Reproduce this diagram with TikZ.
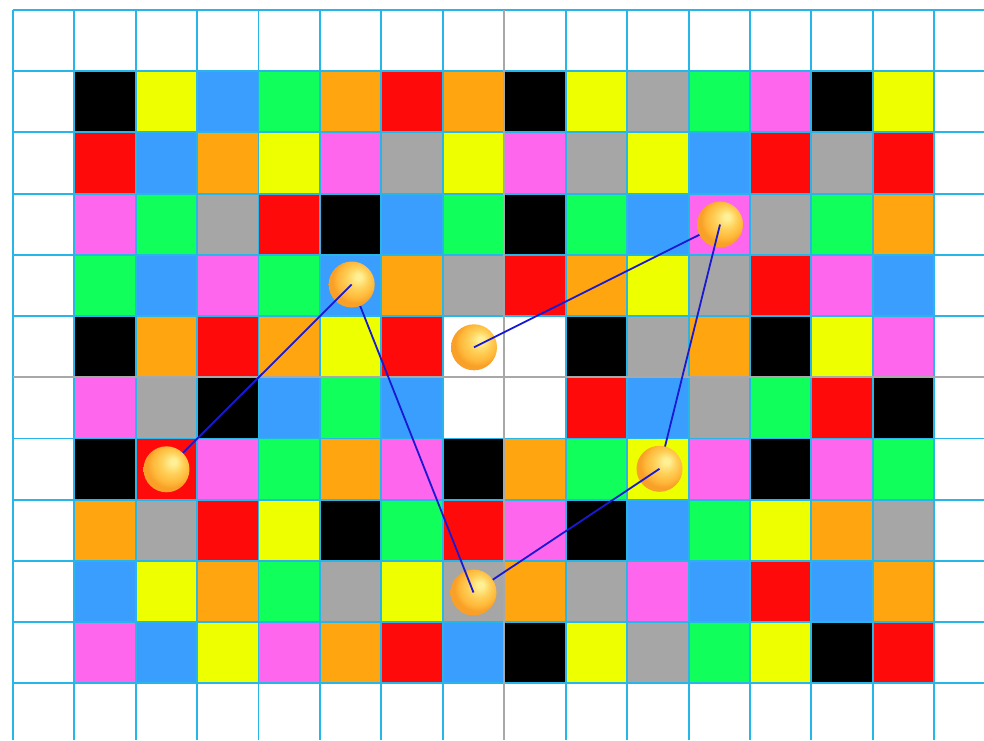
\documentclass[tikz,border=0pt]{standalone}
\usepackage{tikz}
\definecolor{cK}{RGB}{0,0,0}
\definecolor{cY}{RGB}{238,255,0}
\definecolor{cB}{RGB}{58,158,255}
\definecolor{cG}{RGB}{16,255,90}
\definecolor{cO}{RGB}{255,165,16}
\definecolor{cR}{RGB}{255,10,10}
\definecolor{cM}{RGB}{255,102,238}
\definecolor{cA}{RGB}{166,166,166}
\definecolor{cW}{RGB}{255,255,255}
\definecolor{gridcyan}{RGB}{40,182,232}
\definecolor{gridgray}{RGB}{168,168,168}
\definecolor{linkblue}{RGB}{25,25,210}
\definecolor{ballhi}{RGB}{255,240,150}
\definecolor{ballmid}{RGB}{255,208,88}
\definecolor{ballout}{RGB}{255,184,58}
\definecolor{balledge}{RGB}{248,160,40}
\pgfdeclareradialshading{goldball}{\pgfpoint{8bp}{9bp}}{color(0bp)=(ballhi); color(3bp)=(ballhi); color(12bp)=(ballmid); color(20bp)=(ballout); color(25bp)=(balledge); color(50bp)=(balledge)}
\tikzset{
  gridline/.style={draw=gridcyan, line width=1.9pt},
  centerline/.style={draw=gridgray, line width=1.9pt},
  link/.style={draw=linkblue, line width=1.8pt},
  ball/.style={circle, minimum size=46pt, inner sep=0pt, shading=goldball, draw=none},
}
\begin{document}
\begin{tikzpicture}[x=1pt,y=-1pt]
\def\cw{61.44}\def\ch{61.21}\def\xo{12.7}\def\yo{10}
\useasboundingbox (0,0) rectangle (984,740);
\clip (0,0) rectangle (984,740);
\fill[white] (0,0) rectangle (984,740);
% coloured cells
\foreach \row [count=\j] in {
 {K,Y,B,G,O,R,O,K,Y,A,G,M,K,Y},
 {R,B,O,Y,M,A,Y,M,A,Y,B,R,A,R},
 {M,G,A,R,K,B,G,K,G,B,M,A,G,O},
 {G,B,M,G,B,O,A,R,O,Y,A,R,M,B},
 {K,O,R,O,Y,R,W,W,K,A,O,K,Y,M},
 {M,A,K,B,G,B,W,W,R,B,A,G,R,K},
 {K,R,M,G,O,M,K,O,G,Y,M,K,M,G},
 {O,A,R,Y,K,G,R,M,K,B,G,Y,O,A},
 {B,Y,O,G,A,Y,A,O,A,M,B,R,B,O},
 {M,B,Y,M,O,R,B,K,Y,A,G,Y,K,R}}{
  \foreach \c [count=\i] in \row {
    \fill[c\c] ({\xo+\i*\cw},{\yo+\j*\ch}) rectangle ++(\cw,\ch);
  }
}
% grid
\foreach \i in {0,...,15} {
  \draw[gridline] ({\xo+\i*\cw},\yo) -- ({\xo+\i*\cw},740);
}
\foreach \j in {0,...,11} {
  \draw[gridline] (\xo,{\yo+\j*\ch}) -- (984,{\yo+\j*\ch});
}
\draw[centerline] ({\xo+8*\cw},\yo) -- ({\xo+8*\cw},740);
\draw[centerline] (\xo,{\yo+6*\ch}) -- (984,{\yo+6*\ch});
% ball centres
\coordinate (c1) at (166.5,469.3);
\coordinate (c2) at (351.7,284.5);
\coordinate (c3) at (473.5,592.5);
\coordinate (c4) at (659.5,468.8);
\coordinate (c5) at (720,224.5);
\coordinate (c6) at (474,347.3);
% balls and links (each link lies over the next ball and under the previous)
\node[ball] (b6) at (c6) {};
\draw[link] (c5) -- (c6);
\node[ball] (b5) at (c5) {};
\draw[link] (c4) -- (c5);
\node[ball] (b4) at (c4) {};
\draw[link] (c3) -- (c4);
\node[ball] (b3) at (c3) {};
\draw[link] (c2) -- (c3);
\node[ball] (b2) at (c2) {};
\draw[link] (c1) -- (c2);
\node[ball] (b1) at (c1) {};
\end{tikzpicture}
\end{document}
